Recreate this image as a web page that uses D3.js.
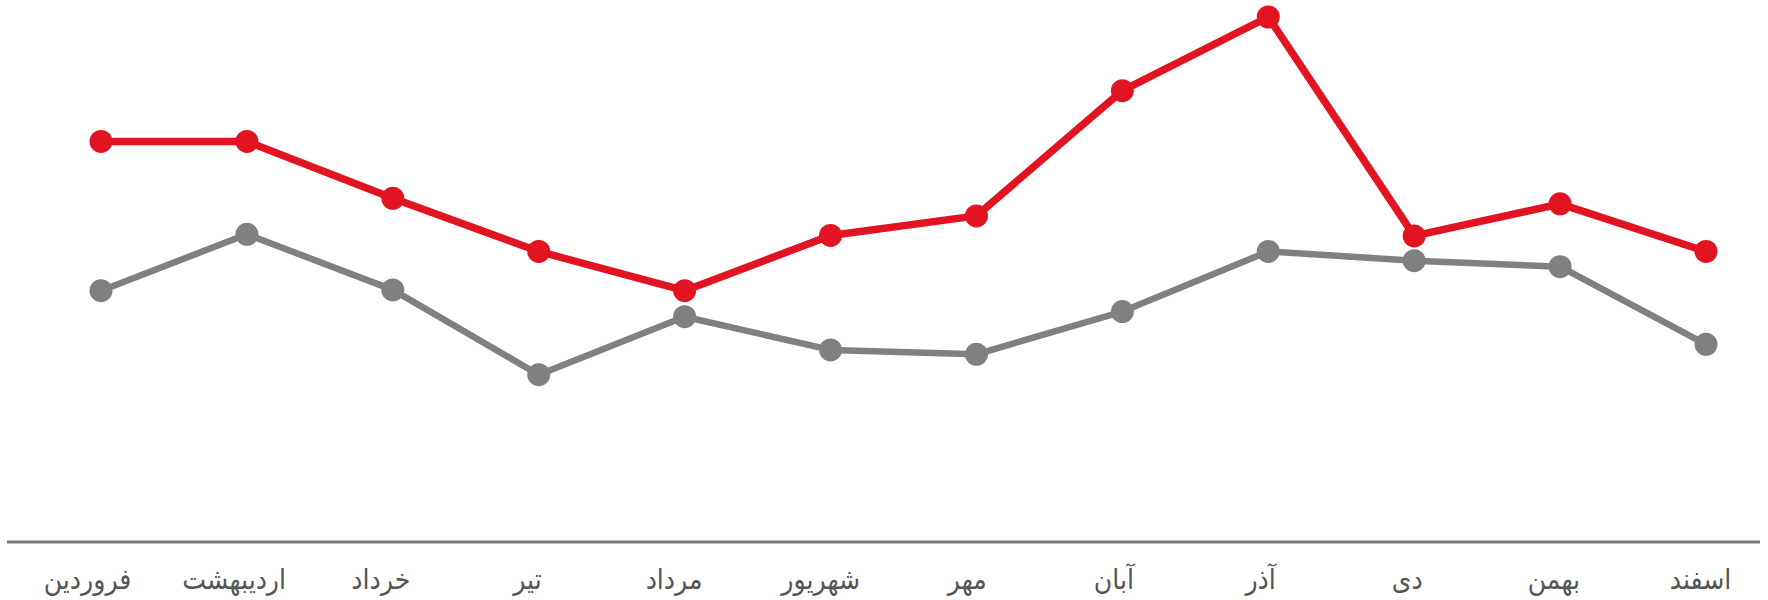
<!DOCTYPE html>
<html lang="fa">
<head>
<meta charset="utf-8">
<script src="https://cdn.jsdelivr.net/npm/d3@7"></script>
<style>
  html, body { margin: 0; padding: 0; background: #fff; }
  svg { display: block; }
</style>
</head>
<body>
<div id="chart"></div>
<script>
// months, left to right as in the picture
const months = ["فروردین", "اردیبهشت", "خرداد", "تیر", "مرداد", "شهریور",
  "مهر", "آبان", "آذر", "دی", "بهمن", "اسفند"];

// series values (no axis given)
const redValues = [100.1, 100.1, 85.9, 72.6, 62.8, 76.6, 81.5, 112.8, 131.2, 76.5, 84.5, 72.6];
const grayValues = [62.8, 76.9, 63.0, 41.8, 56.3, 48.0, 46.9, 57.6, 72.6, 70.3, 68.8, 49.4];

const width = 1768;
const height = 600;
const baseY = 542;

const svg = d3.select('#chart')
  .append('svg')
  .attr('width', width)
  .attr('height', height)
  .attr('viewBox', [0, 0, width, height]);

const x = d3.scalePoint()
  .domain(months)
  .range([101, 1706]);

// labels sit a little left of the points
const xLabel = d3.scalePoint()
  .domain(months)
  .range([87, 1700]);

const y = d3.scaleLinear()
  .domain([0, 131.2])
  .range([baseY, 17]);

// baseline
svg.append('line')
  .attr('x1', 7)
  .attr('x2', 1760)
  .attr('y1', baseY)
  .attr('y2', baseY)
  .attr('stroke', '#7a7a7a')
  .attr('stroke-width', 3);

function xAxis(g) {
  g.attr('transform', `translate(0, ${baseY})`)
    .call(d3.axisBottom(xLabel).tickSize(0).tickPadding(27))
    .call(g => g.select('.domain').remove())
    .attr('font-family', '"DejaVu Sans Condensed", "DejaVu Sans", sans-serif')
    .attr('font-size', '28px')
    .selectAll('text')
    .attr('fill', '#555');
}
svg.append('g').call(xAxis);

const line = d3.line()
  .x((d, i) => x(months[i]))
  .y(d => y(d));

function drawSeries(values, color, lw) {
  svg.append('path')
    .datum(values)
    .attr('fill', 'none')
    .attr('stroke', color)
    .attr('stroke-width', lw)
    .attr('stroke-linejoin', 'round')
    .attr('d', line);

  svg.append('g')
    .selectAll('circle')
    .data(values)
    .join('circle')
    .attr('cx', (d, i) => x(months[i]))
    .attr('cy', d => y(d))
    .attr('r', 11.5)
    .attr('fill', color);
}

drawSeries(grayValues, '#808080', 6.5);
drawSeries(redValues, '#e31421', 7.5);
</script>
</body>
</html>
